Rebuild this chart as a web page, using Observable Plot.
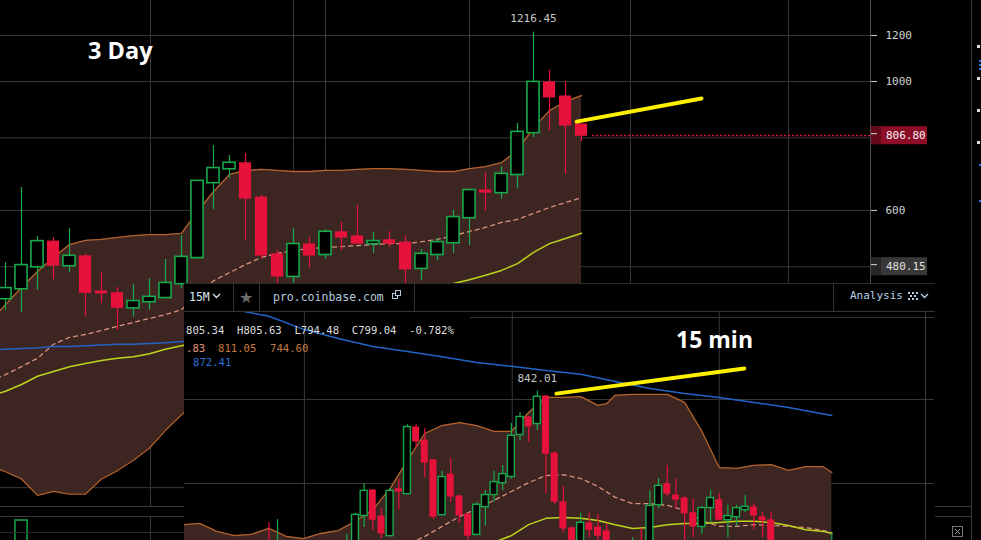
<!DOCTYPE html>
<html><head><meta charset="utf-8">
<script src="https://cdn.jsdelivr.net/npm/d3@7"></script>
<script src="https://cdn.jsdelivr.net/npm/@observablehq/plot@0.6"></script>
<style>
html,body{margin:0;padding:0;background:#000;}
#wrap{position:relative;width:981px;height:540px;overflow:hidden;background:#000;}
.abs{position:absolute;}
#wrap svg{display:block;}
</style></head><body>
<div id="wrap">
  <div id="main" class="abs" style="left:0;top:0"></div>
  <div id="vol" class="abs" style="left:0;top:506px"></div>
  <div id="inset" class="abs" style="left:184px;top:283px;width:751px;height:257px;background:#000;overflow:hidden">
    <div id="insetPlot" class="abs" style="left:0;top:29px"></div>
  </div>
  <svg id="ov" class="abs" style="left:0;top:0;pointer-events:none" width="981" height="540"></svg>
</div>
<script>
// ---------- 3 Day chart data (index = candle number) ----------
const open3  = [423,440,480,530,482,500,435,432,408,418,425,449,498,670,708,723,631,504,462,524,504,550,541,526,533,528,477,504,528,583,649,644,692,817,996,942,843];
const high3  = [488,657,541,539,558,504,469,442,447,458,494,543,676,776,746,752,637,512,558,539,556,572,612,550,552,543,514,537,600,649,697,714,847,1216.45,1045,1000,843];
const low3   = [404,400,437,456,469,394,415,373,393,404,422,440,494,602,681,533,495,430,450,477,495,512,525,506,518,449,454,492,506,522,598,627,654,801,823,692,788];
const close3 = [440,482,530,482,500,433,432,408,418,425,449,498,673,708,723,629,502,462,524,502,550,539,526,530,526,475,504,528,583,649,644,692,817,996,939,840,806.8];
// indicator series start one candle earlier (candle -1, off the left edge)
const indStartK3 = -1;
const upper3 = [385,413,442,471,498,524,533,535,539,543,545,545,548,598,646,692,703,706,703,700,700,703,703,706,708,708,706,703,700,700,708,714,725,761,833,891,924,946];
const mid3   = [305,313,323,334,353,363,367,373,379,385,391,397,405,428,454,469,484,498,506,512,516,518,520,522,524,526,526,530,535,543,552,561,572,579,593,607,619,631];
const lower3 = [218,213,207,194,197,195,195,207,214,223,234,251,267,283,294,306,319,331,340,344,346,347,349,350,351,352,354,356,358,360,362,364,366,370,372,376,380,384];
const ma3    = [287,293,301,311,317,323,327,331,334,336,340,346,351,356,362,369,375,381,386,392,398,403,409,415,421,426,432,438,444,449,456,464,473,486,508,526,537,548];
const blue3  = [345,346,347,348,350,350,351,352,353,353,354,355,357,358,360,361];
const vol3   = [38,92,45,30,26,41,22,35,18,15,24,33];
const gridPrices3 = [1400,1200,1000,800,600,480,400,200];
const axisLabels3 = [1400,1200,1000,600];
const gridK3 = [9.06,18,20,29,39.06,48.94];
const trendK3 = [35.7,43.5];
const trendV3 = [853,935];
const lastPrice3 = 806.80;
const lowTag3 = 480.15;

// ---------- 15 min chart data ----------
const idx15   = [10,11,19,20,21,22,23,24,25,26,27,28,29,30,31,32,33,34,35,36,37,38,39,40,41,42,43,44,45,46,47,48,49,52,53,54,55,56,57,58,59,60,61,62,63,64,65,66,67,68,75];
const open15  = [804,800,801,805,812.4,818.3,812.1,807.6,818.6,817.6,833.3,830.2,825.5,812.6,822.1,816.9,812.6,807.9,814.5,817.4,820.2,821.7,831.7,835.7,834.3,840.7,827.1,815.5,809.3,805,810.5,809.5,808.6,802,805,803,815.0,819.8,817.1,816.4,812.9,809.8,814.3,816.0,811.4,812.1,813.8,814.3,811.9,811.2,801];
const high15  = [810.7,811.4,807.9,812.9,820.0,818.6,814.0,818.8,821.0,834.0,834.0,833.1,825.7,822.9,826.0,817.1,812.8,815.5,818.3,822.9,824.3,834.3,836.9,835.9,842.01,840.9,827.6,819.3,809.5,812.9,812.9,812.6,810.5,807.1,809.3,818.3,821.2,824.3,821.0,816.9,816.4,814.5,818.3,817.6,814.8,814.8,817.1,815.2,813.1,813.3,808.1];
const low15   = [798,797,799,803,809.5,808.8,806.9,807.4,813.8,817.4,828.6,821.4,811.4,812.4,815.5,810.5,805,807.6,809.8,815.5,818.3,821.0,830.2,829.8,832.6,817.6,815.0,808.3,802,803,807.1,806,803,800,801,801,814.0,816.7,814.0,805,807.1,807.9,810.7,811.2,807.1,809.8,813.1,809.0,807.1,803,799];
const close15 = [800,804,805,812.4,818.1,811.4,808.1,818.1,818.1,833.3,830.0,825.0,812.1,821.4,816.9,812.4,807.6,814.8,817.1,820.2,822.1,831.2,835.7,833.6,840.5,827.1,815.7,809.3,804,810.5,809.0,807.6,805,805,803,814.5,819.3,817.6,816.2,812.9,809.8,814.0,816.4,811.4,812.1,814.0,814.3,812.4,811.2,805,804];
const bandI15  = [0,2,4,6,8,10,12,14,16,18,20,22,24,26,28,30,32,34,36,38,40,42,44,46,48,49,50,52,54,56,58,60,62,64,66,68,70,72,74,75];
const upper15  = [810.2,810.5,808.6,807.6,807.9,809.3,807.4,806.9,808.1,808.8,811.0,813.8,818.8,825.5,831.9,833.8,834.5,833.8,832.4,832.4,836.9,840.5,840.5,840.7,838.6,839.0,841.0,841.2,841.2,841.2,839.3,832.4,823.8,823.6,824.3,824.5,823.1,824.0,824.0,822.6];
const lower15  = [792,791,791,790,790,789,789,790,790,791,792,792,791,790,789,789,790,792,796,800,802,803,803,801,799,798,797,795,794,793,792,790,791,793,794,795,796,796,795,794];
const midI15   = [20,24,27,28,30,32,34,36,38,40,42,44,46,48,50,52,54,56,58,60,62,64,66,68,70,72,74,75];
const mid15    = [803,805,806.4,807.4,809.8,812.1,814.0,816.0,818.1,820.2,821.9,822.1,821.2,819.3,816.7,815.2,815.2,814.8,813.6,811.2,809.8,809.8,810.2,810.0,809.8,809.5,808.8,808.3];
const maI15    = [30,34,36,38,40,42,44,46,48,50,52,54,56,58,60,62,64,66,68,70,72,74,75];
const ma15     = [802.9,805.2,806.0,807.6,810.2,811.7,811.9,811.7,811.2,810.2,809.3,809.5,810.2,810.5,810.5,810.7,811.0,811.0,810.7,810.0,809.0,808.6,808.1];
const blueI15  = [6,10,14,18,22,26,30,34,38,42,46,50,54,58,62,66,70,75];
const blue15   = [861.4,859.8,856.7,854.5,852.6,851.4,850.2,848.8,847.9,846.9,846.0,844.3,842.6,841.4,840.5,839.3,838.1,836.2];
const grid15   = [840,820];
const gridI15  = [14.1,38.1,62];
const trendI15 = [43.2,64.9];
const trendV15 = [841.4,847.4];
const highIdx15 = 41;

// ---------- styles ----------
const RED="#e6123c", GREEN="#17a94b", BAND="#3d2622", BANDLINE="#b3622c", MIDC="#d8937d",
      MAC="#bdd41e", BLUE="#2364c6", GRID="#383838", YEL="#fff000";
const MONO = "DejaVu Sans Mono";

function candles(data, key, half, sw){
  const up = data.filter(d=>d.c>=d.o), dn = data.filter(d=>d.c<d.o);
  return [
    Plot.ruleX(up,{x:key,y1:"l",y2:"h",stroke:GREEN,strokeWidth:1.2}),
    Plot.ruleX(dn,{x:key,y1:"l",y2:"h",stroke:RED,strokeWidth:1.2}),
    Plot.rect(up,{x1:d=>d[key]-half,x2:d=>d[key]+half,y1:"o",y2:"c",fill:"#000",stroke:GREEN,strokeWidth:sw,insetTop:-0.6,insetBottom:-0.6}),
    Plot.rect(dn,{x1:d=>d[key]-half,x2:d=>d[key]+half,y1:"o",y2:"c",fill:RED,insetTop:-0.6,insetBottom:-0.6})
  ];
}

// ---------- main 3 Day plot ----------
const c3 = open3.map((o,k)=>({k,o,h:high3[k],l:low3[k],c:close3[k]}));
const band3 = upper3.map((u,j)=>({k:j+indStartK3,up:u,mid:mid3[j],lo:lower3[j],ma:ma3[j]}));
const blue3d = blue3.map((v,j)=>({k:j+indStartK3,v}));
const trend3 = trendK3.map((k,j)=>({k,v:trendV3[j]}));
const lastK = c3.length-1;

const X3 = {domain:[-0.3125,54.0625], axis:null};
const main = Plot.plot({
  width:981, height:506, marginLeft:0, marginRight:111, marginTop:0, marginBottom:0,
  style:{background:"transparent", color:"#cccccc", fontFamily:MONO, fontSize:"10.5px"},
  x:X3,
  y:{type:"log", domain:[185.6,1378.6], axis:null},
  marks:[
    Plot.ruleY(gridPrices3,{stroke:GRID}),
    Plot.ruleX(gridK3,{stroke:GRID}),
    Plot.areaY(band3,{x:"k",y1:"lo",y2:"up",fill:BAND}),
    Plot.line(band3,{x:"k",y:"up",stroke:BANDLINE,strokeWidth:1.3}),
    Plot.line(band3,{x:"k",y:"lo",stroke:BANDLINE,strokeWidth:1.3}),
    Plot.line(band3,{x:"k",y:"mid",stroke:MIDC,strokeWidth:1.3,strokeDasharray:"4,4"}),
    Plot.line(band3,{x:"k",y:"ma",stroke:MAC,strokeWidth:1.5}),
    Plot.line(blue3d,{x:"k",y:"v",stroke:BLUE,strokeWidth:1.5}),
    ...candles(c3,"k",0.38,1.6),
    Plot.ruleY([lastPrice3],{x1:lastK+0.7,x2:54.0625,stroke:"#ff1a48",strokeWidth:1.3,strokeDasharray:"2,2"}),
    Plot.line(trend3,{x:"k",y:"v",stroke:YEL,strokeWidth:4}),
    Plot.text([c3[33]],{x:"k",y:"h",text:d=>d3.format(".2f")(d.h),dy:-14,fill:"#c8c8c8",fontSize:11}),
    Plot.axisY({anchor:"right",ticks:gridPrices3,tickFormat:()=>"",tickSize:6,color:"#d0d0d0",label:null}),
    Plot.axisY({anchor:"right",ticks:axisLabels3,tickFormat:d=>String(d),tickSize:0,tickPadding:15,color:"#d4d4d4",label:null,fontSize:11})
  ]
});
document.getElementById("main").appendChild(main);

// lower pane (volume)
const v3 = vol3.map((v,k)=>({k,v,up:close3[k]>=open3[k]}));
const vol = Plot.plot({
  width:981, height:60, marginLeft:0, marginRight:111, marginTop:10, marginBottom:0,
  style:{background:"transparent"},
  x:X3, y:{domain:[0,100],axis:null},
  marks:[
    Plot.ruleX(gridK3,{stroke:GRID}),
    Plot.rect(v3.filter(d=>d.up),{x1:d=>d.k-0.38,x2:d=>d.k+0.38,y1:0,y2:"v",fill:"#000",stroke:GREEN,strokeWidth:1.5}),
    Plot.rect(v3.filter(d=>!d.up),{x1:d=>d.k-0.38,x2:d=>d.k+0.38,y1:0,y2:"v",fill:RED})
  ]
});
document.getElementById("vol").appendChild(vol);

// ---------- 15 min inset plot ----------
const c15 = idx15.map((i,j)=>({i,o:open15[j],h:high15[j],l:low15[j],c:close15[j]}));
const band15 = bandI15.map((i,j)=>({i,up:upper15[j],lo:lower15[j]}));
const midD15 = midI15.map((i,j)=>({i,v:mid15[j]}));
const maD15 = maI15.map((i,j)=>({i,v:ma15[j]}));
const blueD15 = blueI15.map((i,j)=>({i,v:blue15[j]}));
const trend15 = trendI15.map((i,j)=>({i,v:trendV15[j]}));
const hiBar = c15.filter(d=>d.i===highIdx15);

const inset = Plot.plot({
  width:750, height:228, marginLeft:0, marginRight:0, marginTop:0, marginBottom:0,
  style:{background:"transparent", fontFamily:MONO, fontSize:"10.5px"},
  x:{domain:[0.254,86.86],axis:null},
  y:{domain:[806.43,860.71],axis:null},
  marks:[
    Plot.ruleY(grid15,{stroke:GRID}),
    Plot.ruleX(gridI15,{stroke:GRID}),
    Plot.areaY(band15,{x:"i",y1:"lo",y2:"up",fill:BAND}),
    Plot.line(band15,{x:"i",y:"up",stroke:BANDLINE,strokeWidth:1.3}),
    Plot.line(midD15,{x:"i",y:"v",stroke:MIDC,strokeWidth:1.3,strokeDasharray:"4,4"}),
    Plot.line(maD15,{x:"i",y:"v",stroke:MAC,strokeWidth:1.5}),
    Plot.line(blueD15,{x:"i",y:"v",stroke:BLUE,strokeWidth:1.5}),
    ...candles(c15,"i",0.4,1.4),
    Plot.line(trend15,{x:"i",y:"v",stroke:YEL,strokeWidth:4}),
    Plot.text(hiBar,{x:"i",y:"h",text:d=>d3.format(".2f")(d.h),dy:-13,fill:"#c8c8c8",fontSize:11})
  ]
});
document.getElementById("insetPlot").appendChild(inset);

// ---------- overlay: chrome, labels, price tags ----------
const ov = d3.select("#ov");
function ln(x1,y1,x2,y2,c,w){ov.append("line").attr("x1",x1).attr("y1",y1).attr("x2",x2).attr("y2",y2).attr("stroke",c).attr("stroke-width",w||1);}
function tx(x,y,s,fill,size,family,weight,anchor){
  return ov.append("text").attr("x",x).attr("y",y).attr("fill",fill).attr("font-size",size)
    .attr("font-family",family||MONO).attr("font-weight",weight||400).attr("text-anchor",anchor||"start")
    .attr("xml:space","preserve").style("white-space","pre").text(s);
}
// main chart frame
ln(870.5,0,870.5,283,"#4a4a4a");
ln(971.5,0,971.5,540,"#3a3a3a");
[506.5,516.5].forEach(y=>{ln(0,y,184,y,"#3a3a3a");ln(935,y,971,y,"#3a3a3a");});
ln(0,532.5,184,532.5,"#2c2c2c");
// price tags from the y scale
const ys = main.scale("y");
function tag(v,dark,light,txtc){
  const y = ys.apply(v);
  ov.append("rect").attr("x",871).attr("y",y-9).attr("width",56).attr("height",18).attr("fill",light);
  ov.append("rect").attr("x",871).attr("y",y-9).attr("width",10).attr("height",18).attr("fill",dark);
  ln(871,y-1.5,877,y-1.5,"#ddd");
  tx(886,y+4,d3.format(".2f")(v),txtc,11);
}
tag(lastPrice3,"#640a1a","#8c0d27","#f2f2f2");
tag(lowTag3,"#262626","#383838","#e0e0e0");
// tiny markers at far right
[45,77,109,141].forEach(y=>ov.append("rect").attr("x",977).attr("y",y).attr("width",3).attr("height",3).attr("fill","#ddd"));
[60,64,68,164,200].forEach(y=>ov.append("rect").attr("x",979).attr("y",y).attr("width",2).attr("height",2).attr("fill","#2a7ad8"));

// inset header chrome
ln(184,283.5,935,283.5,"#2a2a2a");
ln(184,311.5,935,311.5,"#343434");
ln(470,317.5,934,317.5,"#343434");
[233.5,259.5,414.5,833.5].forEach(x=>ln(x,283,x,311,"#343434"));
ln(925.5,311,925.5,540,"#3a3a3a");
tx(189,301,"15M","#dbe6f2",11.5);
ov.append("polyline").attr("points","213,294 216.5,297.5 220,294").attr("fill","none").attr("stroke","#dbe6f2").attr("stroke-width",1.3);
tx(239,302.5,"★","#6c6c6c",16,"DejaVu Sans");
tx(273,300.5,"pro.coinbase.com","#b4c9dc",11.5);
ov.append("rect").attr("x",392.5).attr("y",293.5).attr("width",5).attr("height",5).attr("fill","none").attr("stroke","#b4c9dc");
ov.append("rect").attr("x",395.5).attr("y",290.5).attr("width",5).attr("height",5).attr("fill","#000").attr("stroke","#b4c9dc");
tx(850,299,"Analysis","#b8d0e8",11);
[[908,292],[912,292],[916,292],[910,295],[914,295],[908,298],[912,298],[916,298]].forEach(p=>ov.append("rect").attr("x",p[0]).attr("y",p[1]).attr("width",2).attr("height",2).attr("fill","#b8d0e8"));
ov.append("polyline").attr("points","921,294 924.5,297.5 928,294").attr("fill","none").attr("stroke","#b8d0e8").attr("stroke-width",1.3);
// OHLC legend
tx(186,333.5,"805.34  H805.63  L794.48  C799.04  -0.782%","#dedede",10.6);
tx(186,352,".83","#e3957a",10.6);
tx(218,352,"811.05","#c9773f",10.6);
tx(270,352,"744.60","#c07a45",10.6);
tx(193,365.5,"872.41","#2f6fd6",10.6);
// close icon bottom right
ov.append("rect").attr("x",952.5).attr("y",526.5).attr("width",10).attr("height",10).attr("fill","none").attr("stroke","#777");
ln(955,529,960,534,"#999");ln(960,529,955,534,"#999");
// annotations
tx(88,59,"3 Day","#ffffff",23.5,"Open Sans",700);
tx(676,348,"15 min","#ffffff",23,"Open Sans",700);
</script>
</body></html>
